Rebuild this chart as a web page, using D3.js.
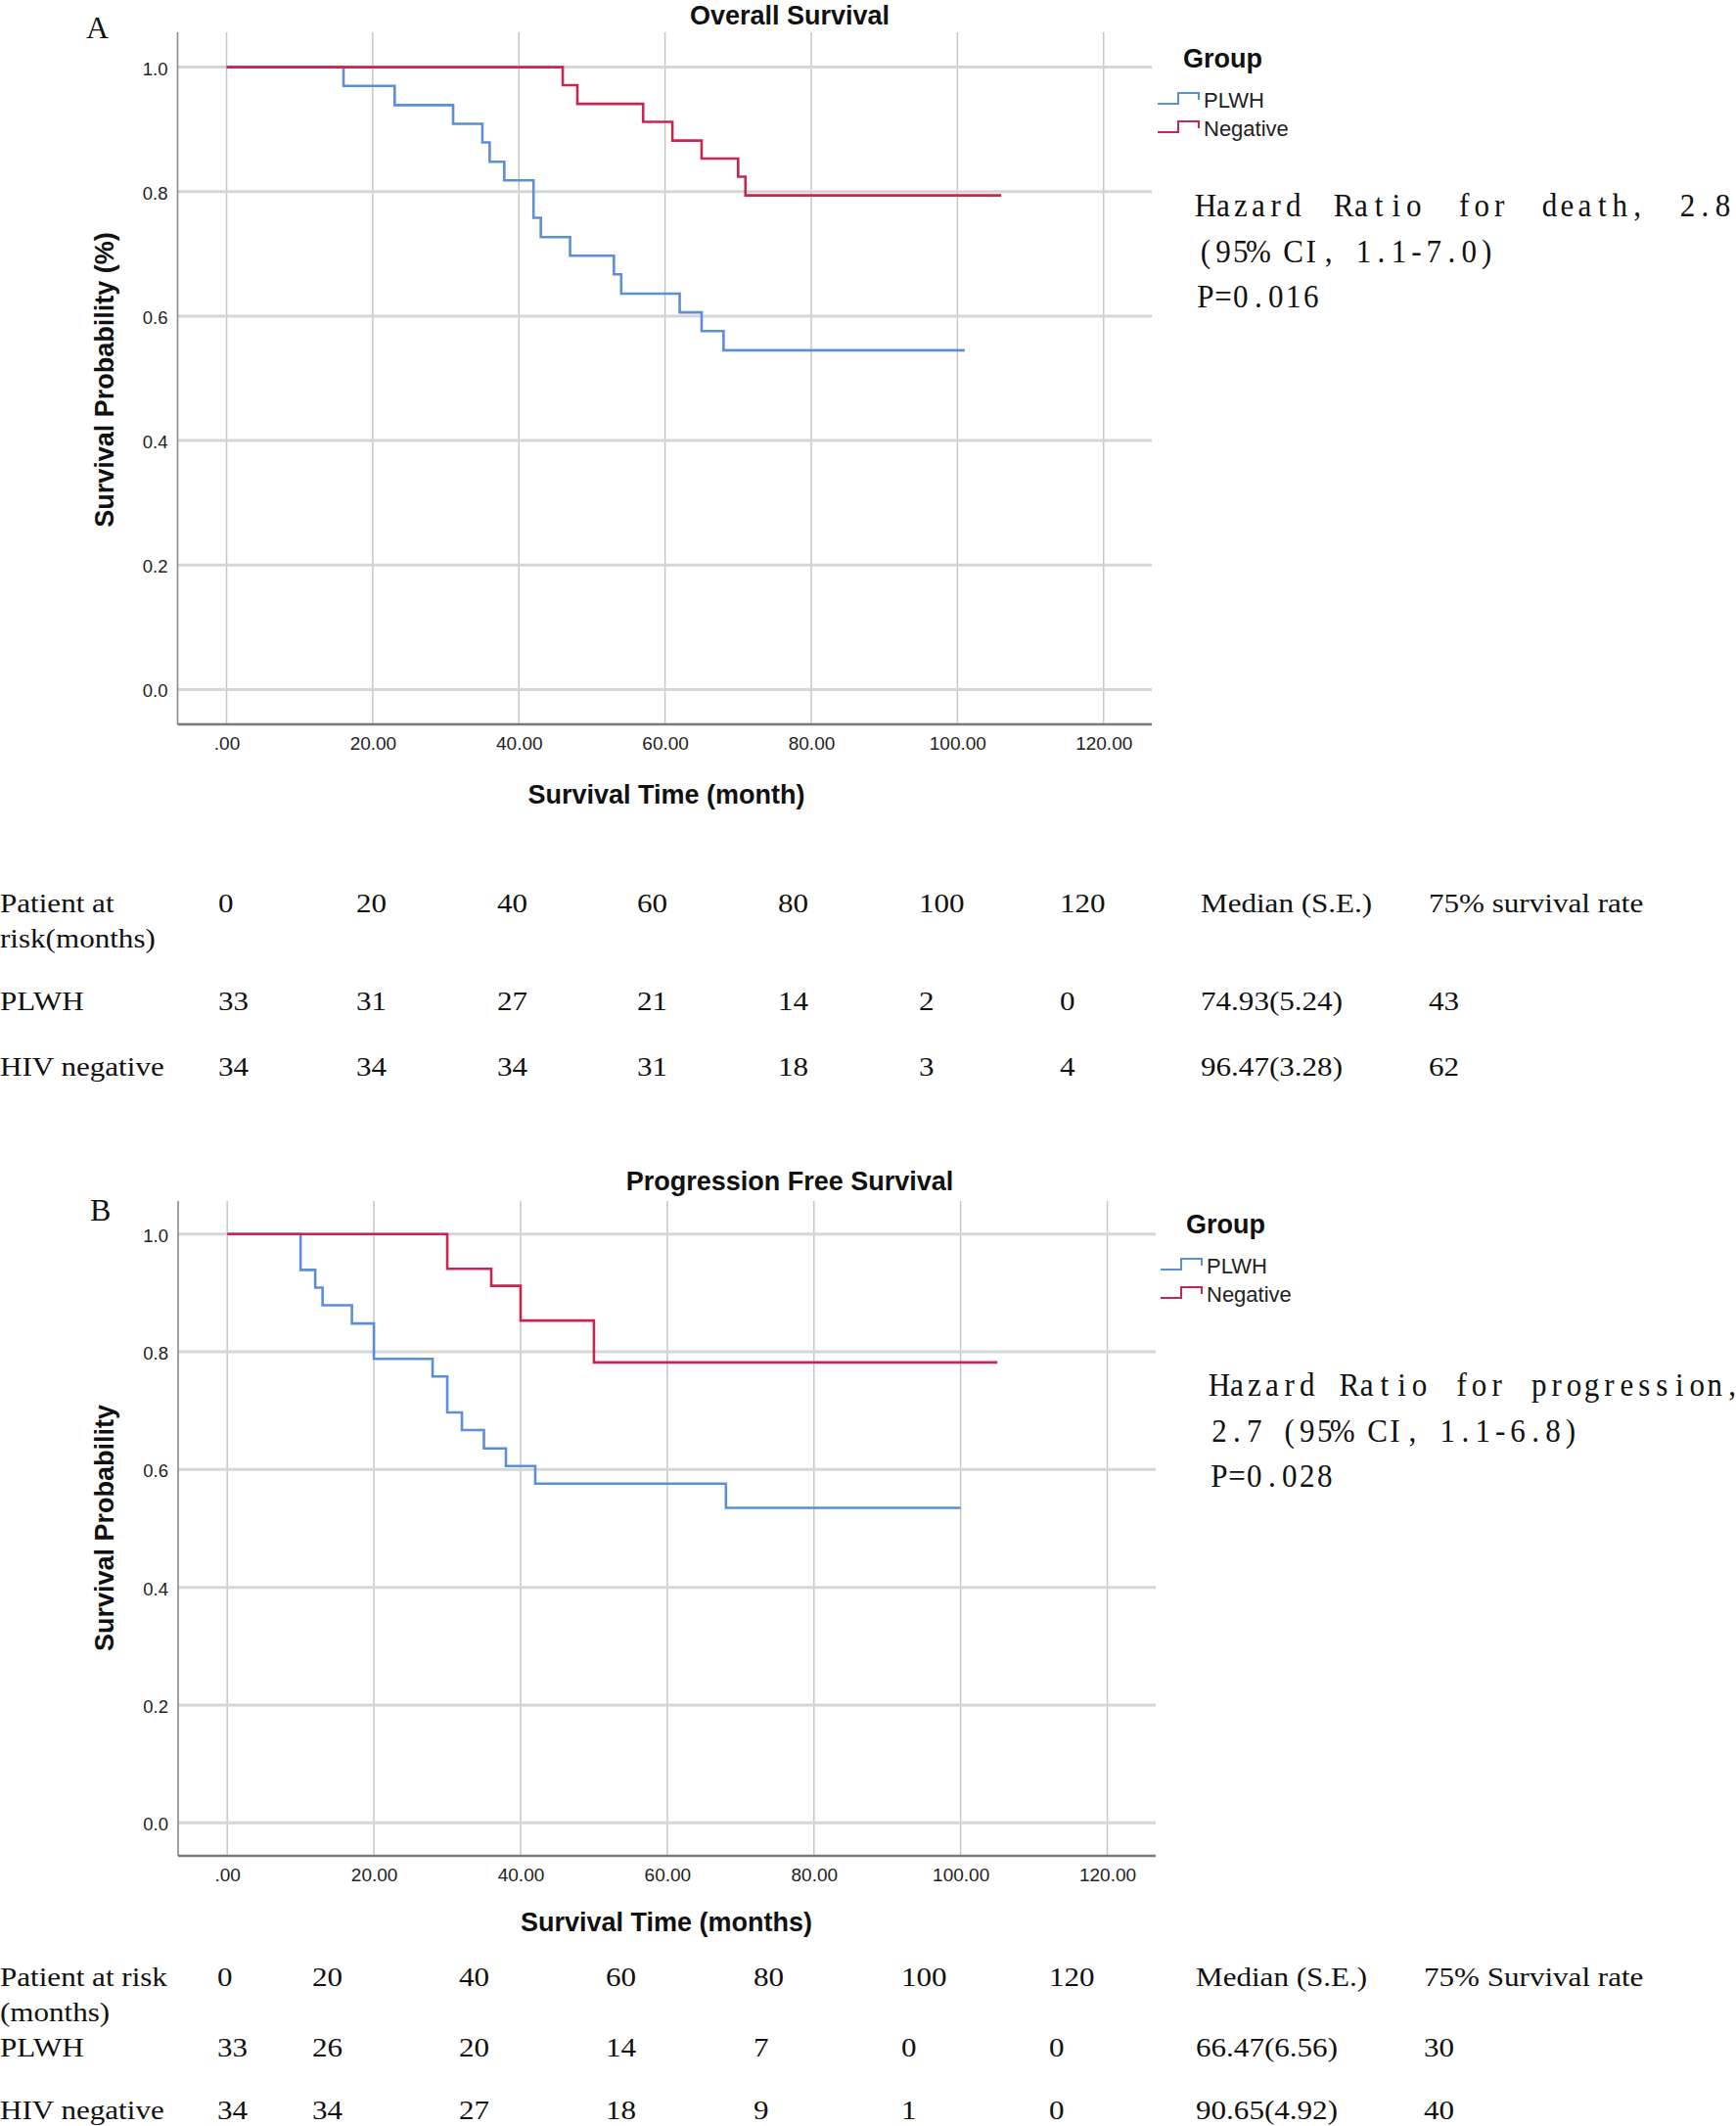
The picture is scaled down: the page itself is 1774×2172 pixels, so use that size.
<!DOCTYPE html>
<html>
<head>
<meta charset="utf-8">
<script src="https://cdn.jsdelivr.net/npm/d3@7"></script>
<style>
  html, body { margin: 0; padding: 0; background: #ffffff; }
  svg { display: block; }
</style>
</head>
<body>
<div id="chart"></div>
<script>
// ---------------- DATA ----------------
const xTickValues = [0, 20, 40, 60, 80, 100, 120];
const yTickValues = [0, 0.2, 0.4, 0.6, 0.8, 1.0];
const groupNames = ["PLWH", "Negative"];

// Overall survival (panel A) - Kaplan-Meier steps: event times and survival after each
const osPlwhTime = [0, 16, 23, 31, 35, 36, 38, 42, 43, 47, 53, 54, 62, 65, 68];
const osPlwhSurv = [1.0, 0.970, 0.939, 0.909, 0.879, 0.848, 0.818, 0.758, 0.727, 0.697, 0.667, 0.636, 0.606, 0.576, 0.545];
const osPlwhEnd = 101;
const osNegTime = [0, 46, 48, 57, 61, 65, 70, 71];
const osNegSurv = [1.0, 0.971, 0.941, 0.912, 0.882, 0.853, 0.824, 0.794];
const osNegEnd = 106;

// Progression free survival (panel B)
const pfsPlwhTime = [0, 10, 12, 13, 17, 20, 28, 30, 32, 35, 38, 42, 68];
const pfsPlwhSurv = [1.0, 0.939, 0.909, 0.879, 0.848, 0.788, 0.758, 0.697, 0.667, 0.636, 0.606, 0.576, 0.535];
const pfsPlwhEnd = 100;
const pfsNegTime = [0, 30, 36, 40, 50];
const pfsNegSurv = [1.0, 0.941, 0.912, 0.853, 0.782];
const pfsNegEnd = 105;

// Risk tables
const riskMonths = ["0", "20", "40", "60", "80", "100", "120"];
const osRiskPlwh = ["33", "31", "27", "21", "14", "2", "0"];
const osRiskNeg = ["34", "34", "34", "31", "18", "3", "4"];
const osMedian = ["74.93(5.24)", "96.47(3.28)"];
const osRate75 = ["43", "62"];
const pfsRiskPlwh = ["33", "26", "20", "14", "7", "0", "0"];
const pfsRiskNeg = ["34", "34", "27", "18", "9", "1", "0"];
const pfsMedian = ["66.47(6.56)", "90.65(4.92)"];
const pfsRate75 = ["30", "40"];

// Hazard ratio text
const osHazardLines = ["Hazard Ratio for death, 2.8", "(95% CI, 1.1-7.0)", "P=0.016"];
const pfsHazardLines = ["Hazard Ratio for progression,", "2.7 (95% CI, 1.1-6.8)", "P=0.028"];

// ---------------- DRAWING ----------------
const W = 1774, H = 2172;
const colors = { PLWH: "#5b8fd6", Negative: "#c82650" };
const SANS = "'Liberation Sans', Arial, sans-serif";
const SERIF = "'Liberation Serif', 'Times New Roman', serif";

const svg = d3.select("#chart").append("svg")
  .attr("width", W).attr("height", H)
  .attr("viewBox", `0 0 ${W} ${H}`);
svg.append("rect").attr("width", W).attr("height", H).attr("fill", "#fff");

const xDomain = [-6.7, 126.6];
const yDomain = [-0.056, 1.056];
const tickFmt = d => d === 0 ? ".00" : d3.format(".2f")(d);

function drawPanel(cfg) {
  const x = d3.scaleLinear().domain(xDomain).range([cfg.left, cfg.right]);
  const y = d3.scaleLinear().domain(yDomain).range([cfg.bottom, cfg.top]);
  const g = svg.append("g");

  // vertical gridlines
  g.append("g").selectAll("line").data(xTickValues).join("line")
    .attr("x1", d => x(d)).attr("x2", d => x(d))
    .attr("y1", cfg.top).attr("y2", cfg.bottom)
    .attr("stroke", "#c6c6c6").attr("stroke-width", 1.5);
  // horizontal gridlines
  g.append("g").selectAll("line").data(yTickValues).join("line")
    .attr("x1", cfg.left).attr("x2", cfg.right)
    .attr("y1", d => y(d)).attr("y2", d => y(d))
    .attr("stroke", "#d6d6d6").attr("stroke-width", 3);

  // axes lines
  g.append("line").attr("x1", cfg.left).attr("x2", cfg.left)
    .attr("y1", cfg.top).attr("y2", cfg.bottom)
    .attr("stroke", "#8a8a8a").attr("stroke-width", 1.6);
  g.append("line").attr("x1", cfg.left).attr("x2", cfg.right)
    .attr("y1", cfg.bottom).attr("y2", cfg.bottom)
    .attr("stroke", "#7a7a7a").attr("stroke-width", 2.5);

  // axis tick labels via d3 axes (no tick lines)
  const xAxis = d3.axisBottom(x).tickValues(xTickValues).tickFormat(tickFmt).tickSize(0).tickPadding(0);
  const xa = g.append("g").attr("transform", `translate(0,${cfg.bottom + 12})`).call(xAxis);
  xa.select(".domain").remove();
  xa.selectAll("text").attr("font-family", SANS).attr("font-size", 19).attr("fill", "#222")
    .attr("dy", "0.71em");

  const yAxis = d3.axisLeft(y).tickValues(yTickValues).tickFormat(d3.format(".1f")).tickSize(0).tickPadding(0);
  const ya = g.append("g").attr("transform", `translate(${cfg.left - 10},0)`).call(yAxis);
  ya.select(".domain").remove();
  ya.selectAll("text").attr("font-family", SANS).attr("font-size", 18.5).attr("fill", "#222")
    .attr("dy", "0.4em");

  // curves
  const line = d3.line().x(d => x(d[0])).y(d => y(d[1])).curve(d3.curveStepAfter);
  cfg.series.forEach(s => {
    const pts = s.time.map((t, i) => [t, s.surv[i]]);
    pts.push([s.end, s.surv[s.surv.length - 1]]);
    g.append("path").datum(pts).attr("d", line)
      .attr("fill", "none").attr("stroke", colors[s.name])
      .attr("stroke-width", 2.6).attr("stroke-linejoin", "miter");
  });

  // title
  g.append("text").attr("x", cfg.titleX).attr("y", cfg.titleY)
    .attr("text-anchor", "middle").attr("font-family", SANS).attr("font-weight", "bold")
    .attr("font-size", 27).attr("fill", "#111").text(cfg.title);
  // panel letter
  g.append("text").attr("x", cfg.letterX).attr("y", cfg.letterY)
    .attr("font-family", SERIF).attr("font-size", 32).attr("fill", "#111").text(cfg.letter);
  // x title
  g.append("text").attr("x", cfg.xTitleX).attr("y", cfg.xTitleY)
    .attr("text-anchor", "middle").attr("font-family", SANS).attr("font-weight", "bold")
    .attr("font-size", 27).attr("fill", "#111").text(cfg.xTitle);
  // y title
  g.append("text").attr("transform", `translate(${cfg.yTitleX},${cfg.yTitleY}) rotate(-90)`)
    .attr("text-anchor", "middle").attr("dominant-baseline", "central")
    .attr("font-family", SANS).attr("font-weight", "bold")
    .attr("font-size", 27).attr("fill", "#111").text(cfg.yTitle);

  // legend
  g.append("text").attr("x", cfg.legX + 26).attr("y", cfg.legY)
    .attr("font-family", SANS).attr("font-weight", "bold").attr("font-size", 27)
    .attr("fill", "#111").text("Group");
  groupNames.forEach((name, i) => {
    const b = cfg.legY + 41 + i * 29;
    const x0 = cfg.legX;
    g.append("path")
      .attr("d", `M${x0},${b - 4}H${x0 + 21}V${b - 15}H${x0 + 42}V${b - 8}`)
      .attr("fill", "none").attr("stroke", colors[name]).attr("stroke-width", 2);
    g.append("text").attr("x", x0 + 47).attr("y", b)
      .attr("font-family", SANS).attr("font-size", 22).attr("fill", "#222").text(name);
  });

  // hazard text (monospace serif cells)
  const cell = 17.95, sx = 0.94;
  cfg.hazard.forEach((ln, li) => {
    const gap = li === 0 ? cfg.hazGap : 0;
    const words = ln.split(" ");
    const t = g.append("text")
      .attr("transform", `translate(${cfg.hazX},${cfg.hazY + li * 46.5}) scale(${sx},1)`)
      .attr("font-family", SERIF).attr("font-size", 33).attr("fill", "#111");
    let c = 0;
    words.forEach((w, wi) => {
      if (wi > 0) c += 1 + gap;
      for (let k = 0; k < w.length; k++) {
        t.append("tspan").attr("x", (c + k + 0.5) * cell / sx).attr("y", 0)
          .attr("text-anchor", "middle").text(w[k]);
      }
      c += w.length;
    });
  });
}

drawPanel({
  left: 181.5, right: 1177, top: 33, bottom: 740,
  title: "Overall Survival", titleX: 807, titleY: 25,
  letter: "A", letterX: 88, letterY: 39,
  xTitle: "Survival Time (month)", xTitleX: 681, xTitleY: 821,
  yTitle: "Survival Probability (%)", yTitleX: 107, yTitleY: 388,
  legX: 1183, legY: 69,
  hazard: osHazardLines, hazX: 1223, hazY: 221, hazGap: 0.86,
  series: [
    { name: "PLWH", time: osPlwhTime, surv: osPlwhSurv, end: osPlwhEnd },
    { name: "Negative", time: osNegTime, surv: osNegSurv, end: osNegEnd }
  ]
});

drawPanel({
  left: 182, right: 1181, top: 1227, bottom: 1896,
  title: "Progression Free Survival", titleX: 807, titleY: 1216,
  letter: "B", letterX: 92, letterY: 1247,
  xTitle: "Survival Time (months)", xTitleX: 681, xTitleY: 1973,
  yTitle: "Survival Probability", yTitleX: 107, yTitleY: 1561,
  legX: 1186, legY: 1260,
  hazard: pfsHazardLines, hazX: 1237, hazY: 1426, hazGap: 0.4,
  series: [
    { name: "PLWH", time: pfsPlwhTime, surv: pfsPlwhSurv, end: pfsPlwhEnd },
    { name: "Negative", time: pfsNegTime, surv: pfsNegSurv, end: pfsNegEnd }
  ]
});

// ---------------- TABLES ----------------
function drawTable(cfg) {
  const g = svg.append("g");
  const put = (txt, x, yb) => {
    g.append("text").attr("transform", `translate(${x},${yb}) scale(1.11,1)`)
      .attr("font-family", SERIF).attr("font-size", 28).attr("fill", "#111").text(txt);
  };
  const cols = cfg.cols;
  // header
  put(cfg.head1, cols[0], cfg.rows[0]);
  put(cfg.head2, cols[0], cfg.rows[1]);
  riskMonths.forEach((m, i) => put(m, cols[i + 1], cfg.rows[0]));
  put("Median (S.E.)", cols[8], cfg.rows[0]);
  put(cfg.rateHead, cols[9], cfg.rows[0]);
  // rows
  const rowsData = [
    { label: "PLWH", risk: cfg.riskPlwh, med: cfg.median[0], rate: cfg.rate[0] },
    { label: "HIV negative", risk: cfg.riskNeg, med: cfg.median[1], rate: cfg.rate[1] }
  ];
  rowsData.forEach((r, ri) => {
    const yb = cfg.rows[2 + ri];
    put(r.label, cols[0], yb);
    r.risk.forEach((v, i) => put(v, cols[i + 1], yb));
    put(r.med, cols[8], yb);
    put(r.rate, cols[9], yb);
  });
}

drawTable({
  cols: [0, 223, 364, 508, 651, 795, 939, 1083, 1227, 1460],
  rows: [932, 968, 1032, 1099],
  head1: "Patient at", head2: "risk(months)", rateHead: "75% survival rate",
  riskPlwh: osRiskPlwh, riskNeg: osRiskNeg, median: osMedian, rate: osRate75
});

drawTable({
  cols: [0, 222, 319, 469, 619, 770, 921, 1072, 1222, 1455],
  rows: [2029, 2065, 2101, 2165],
  head1: "Patient at risk", head2: "(months)", rateHead: "75% Survival rate",
  riskPlwh: pfsRiskPlwh, riskNeg: pfsRiskNeg, median: pfsMedian, rate: pfsRate75
});
</script>
</body>
</html>
